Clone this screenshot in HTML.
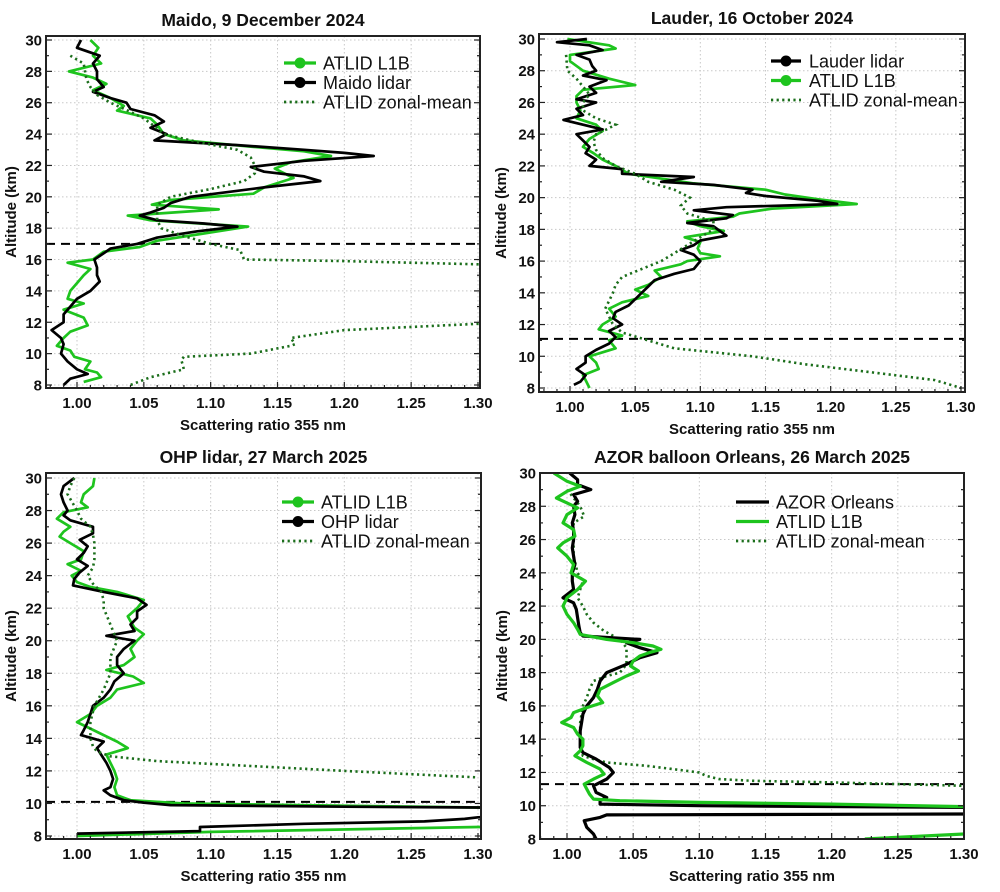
<!DOCTYPE html>
<html><head><meta charset="utf-8">
<style>
html,body{margin:0;padding:0;background:#fff;}
svg{display:block;font-family:"Liberation Sans",Arial,sans-serif;}
.tick{font-size:15px;font-weight:bold;fill:#111;}
.ttl{font-size:17.5px;font-weight:bold;fill:#111;}
.axl{font-size:15px;font-weight:bold;fill:#111;}
.leg{font-size:18px;fill:#111;}
</style></head>
<body>
<svg id="fig" width="1000" height="892" viewBox="0 0 1000 892" xmlns="http://www.w3.org/2000/svg"></svg>
<script>
// ---------- data (altitude km, scattering ratio) ----------
const xTicks = [1.00,1.05,1.10,1.15,1.20,1.25,1.30];
const yTicks = [8,10,12,14,16,18,20,22,24,26,28,30];
const panelTitles = ["Maido, 9 December 2024","Lauder, 16 October 2024","OHP lidar, 27 March 2025","AZOR balloon Orleans, 26 March 2025"];
const tropopause = [17.0, 11.1, 10.1, 11.3];

const maidoAtlid = [[30,1.010],[29.5,1.016],[29,1.012],[28.5,1.018],[28,0.994],[27.6,1.012],[27.2,1.022],[26.8,1.012],[26.3,1.025],[25.8,1.035],[25.5,1.030],[25,1.055],[24.6,1.060],[24,1.065],[23.6,1.080],[23.2,1.130],[22.9,1.170],[22.6,1.190],[22.2,1.160],[21.8,1.148],[21.2,1.162],[20.6,1.140],[20.2,1.132],[19.8,1.070],[19.5,1.056],[19.2,1.106],[18.8,1.038],[18.5,1.055],[18.1,1.128],[17.6,1.090],[17.2,1.060],[16.8,1.047],[16.5,1.020],[16,1.012],[15.8,0.993],[15.4,1.010],[15,1.005],[14.5,1.000],[14,0.995],[13.5,0.993],[13.2,1.005],[12.8,0.990],[12.3,1.005],[11.8,1.008],[11.4,0.995],[11,0.990],[10.5,0.985],[10.2,0.995],[9.8,0.998],[9.5,1.010],[9,1.006],[8.8,1.015],[8.5,1.018],[8.2,1.005]];
const maidoLidar = [[30,1.003],[29.5,1.000],[29,1.017],[28.5,1.012],[28,1.015],[27.5,1.015],[27,1.020],[26.7,1.012],[26.3,1.025],[26,1.037],[25.6,1.040],[25.2,1.058],[24.8,1.065],[24.4,1.055],[24,1.067],[23.6,1.058],[23.3,1.120],[23,1.170],[22.8,1.200],[22.6,1.222],[22.3,1.170],[21.9,1.130],[21.6,1.140],[21.3,1.170],[21,1.182],[20.6,1.140],[20,1.085],[19.6,1.070],[19.3,1.065],[19,1.055],[18.8,1.047],[18.5,1.060],[18.3,1.095],[18.1,1.120],[17.8,1.090],[17.4,1.060],[17,1.045],[16.7,1.025],[16.4,1.020],[16,1.013],[15.5,1.015],[15,1.015],[14.6,1.017],[14,1.010],[13.5,1.000],[13,0.995],[12.5,0.990],[12,0.990],[11.5,0.981],[11,0.988],[10.6,0.990],[10,0.988],[9.5,0.993],[9,1.000],[8.7,1.008],[8.4,0.995],[8,0.990]];
const maidoZonal = [[29,0.995],[28.5,1.005],[27.5,1.007],[27,1.010],[26.5,1.015],[26,1.025],[25.5,1.038],[25,1.050],[24.5,1.058],[24,1.065],[23.5,1.090],[23,1.120],[22.5,1.130],[22,1.133],[21.5,1.133],[21,1.125],[20.5,1.100],[20,1.070],[19.5,1.060],[19,1.060],[18.5,1.060],[18,1.063],[17.5,1.080],[17,1.100],[16.6,1.122],[16,1.125],[15.9,1.200],[15.7,1.300],[15.6,1.40],[12,1.40],[11.9,1.300],[11.5,1.200],[11,1.160],[10.6,1.163],[10.5,1.160],[10,1.130],[9.8,1.080],[9.6,1.078],[9,1.080],[8.5,1.055],[8,1.040]];

const lauderLidar = [[30,1.013],[29.8,0.990],[29.6,1.015],[29.3,1.025],[29,1.005],[28.7,1.015],[28.3,1.017],[28,1.020],[27.7,1.010],[27.4,1.028],[27,1.015],[26.6,1.020],[26.2,1.005],[26,1.020],[25.6,1.005],[25.2,1.010],[24.9,0.995],[24.6,1.010],[24.3,1.025],[24,1.005],[23.6,1.010],[23.2,1.015],[22.8,1.012],[22.4,1.020],[22,1.015],[21.8,1.040],[21.5,1.040],[21.3,1.095],[21,1.070],[20.8,1.110],[20.5,1.140],[20.3,1.135],[20.1,1.150],[19.8,1.190],[19.6,1.205],[19.4,1.120],[19.2,1.095],[18.9,1.125],[18.7,1.120],[18.4,1.090],[18.2,1.110],[17.9,1.115],[17.6,1.120],[17.3,1.100],[17,1.095],[16.7,1.085],[16.4,1.095],[16,1.100],[15.5,1.095],[15.2,1.080],[14.8,1.065],[14.4,1.060],[14,1.055],[13.6,1.050],[13.2,1.045],[12.8,1.035],[12.4,1.033],[12,1.040],[11.6,1.030],[11.2,1.035],[10.8,1.030],[10.4,1.020],[10,1.012],[9.6,1.012],[9.2,1.005],[8.8,1.012],[8.4,1.008],[8.2,1.003]];
const lauderAtlid = [[30,0.998],[29.6,1.030],[29.4,1.035],[29,1.000],[28.6,1.000],[28,1.010],[27.5,1.030],[27.1,1.050],[26.8,1.010],[26.4,1.005],[26,1.005],[25.5,1.008],[25,1.005],[24.6,1.020],[24.2,1.025],[23.7,1.015],[23.2,1.010],[22.8,1.018],[22.4,1.025],[22,1.035],[21.5,1.045],[21.2,1.070],[20.9,1.095],[20.5,1.150],[20.2,1.165],[19.9,1.190],[19.6,1.220],[19.3,1.155],[19,1.130],[18.8,1.125],[18.5,1.090],[18.2,1.100],[17.9,1.118],[17.5,1.088],[17.2,1.100],[16.8,1.098],[16.5,1.100],[16.3,1.115],[16,1.090],[15.8,1.085],[15.4,1.065],[15,1.070],[14.5,1.060],[14.2,1.050],[13.8,1.060],[13.4,1.040],[13,1.030],[12.5,1.035],[12,1.025],[11.7,1.022],[11.3,1.040],[11,1.030],[10.5,1.035],[10,1.015],[9.6,1.020],[9.2,1.022],[8.8,1.010],[8.5,1.012],[8,1.015]];
const lauderZonal = [[29,0.997],[28,0.998],[27.5,1.005],[27,1.010],[26.5,1.015],[26,1.010],[25.5,1.010],[25,1.020],[24.6,1.035],[24.3,1.028],[24,1.020],[23.5,1.018],[23,1.020],[22.5,1.025],[22,1.035],[21.5,1.050],[21,1.060],[20.5,1.080],[20,1.092],[19.5,1.085],[19,1.090],[18.5,1.110],[18,1.110],[17.5,1.100],[17,1.090],[16.5,1.080],[16,1.070],[15.5,1.055],[15,1.040],[14.5,1.035],[14,1.033],[13.5,1.030],[13,1.027],[12.5,1.030],[12,1.033],[11.5,1.040],[11,1.060],[10.5,1.080],[10,1.140],[9.5,1.180],[9,1.230],[8.5,1.280],[8,1.300]];

const ohpAtlid = [[30,1.013],[29.5,1.012],[29,1.005],[28.5,1.003],[28.2,1.008],[27.9,0.990],[27.5,0.985],[27,0.995],[26.7,0.990],[26.4,0.987],[26,0.995],[25.5,1.005],[25,1.003],[24.7,0.993],[24.3,1.003],[24,0.996],[23.6,1.000],[23.3,1.010],[23,1.030],[22.5,1.050],[22,1.045],[21.5,1.038],[21.2,1.040],[20.8,1.043],[20.4,1.050],[20,1.045],[19.5,1.040],[19,1.043],[18.5,1.035],[18.2,1.022],[17.8,1.042],[17.4,1.050],[17,1.030],[16.5,1.025],[16,1.015],[15.5,1.010],[15,1.000],[14.6,1.010],[14.2,1.020],[13.8,1.030],[13.4,1.038],[13,1.022],[12.5,1.025],[12,1.028],[11.5,1.030],[11,1.028],[10.5,1.030],[10.2,1.040],[10,1.080],[9.75,1.300],[9.7,1.40],[8.6,1.40],[8.55,1.300],[8.25,1.100],[8,1.000]];
const ohpLidar = [[30,0.998],[29.5,0.990],[29,0.988],[28.5,0.990],[28,0.993],[27.7,0.990],[27.4,0.995],[27,1.012],[26.6,1.012],[26.2,1.002],[25.8,1.008],[25.4,1.005],[25,1.000],[24.6,1.008],[24.2,1.002],[23.8,0.998],[23.4,0.997],[23,1.020],[22.6,1.045],[22.2,1.052],[21.8,1.045],[21.4,1.045],[21,1.040],[20.6,1.043],[20.3,1.022],[20,1.043],[19.5,1.035],[19,1.030],[18.5,1.030],[18,1.035],[17.5,1.028],[17,1.025],[16.5,1.020],[16,1.012],[15.5,1.010],[15,1.008],[14.5,1.005],[14.2,1.003],[13.8,1.020],[13.4,1.015],[13,1.018],[12.5,1.022],[12,1.025],[11.5,1.027],[11,1.025],[10.8,1.020],[10.5,1.025],[10.2,1.035],[10.05,1.050],[9.9,1.070],[9.8,1.200],[9.75,1.300],[9.7,1.40],[9.2,1.40],[9.15,1.300],[9.05,1.290],[8.9,1.260],[8.75,1.170],[8.55,1.092],[8.3,1.092],[8.15,1.000]];
const ohpZonal = [[30,0.998],[29.5,0.995],[29,0.993],[28,1.000],[27.5,1.003],[27,1.010],[26.5,1.012],[26,1.013],[25.5,1.013],[25,1.013],[24.5,1.012],[24,1.008],[23.5,1.012],[23,1.018],[22.5,1.020],[22,1.020],[21,1.025],[20,1.030],[19,1.025],[18.5,1.025],[18,1.025],[17,1.020],[16,1.013],[15,1.010],[14,1.010],[13.5,1.012],[13.2,1.015],[12.9,1.025],[12.6,1.060],[12.3,1.130],[12,1.200],[11.8,1.250],[11.6,1.300]];

const azorLidar = [[30,1.002],[29.6,1.008],[29.3,1.008],[29,1.018],[28.7,1.005],[28.3,1.008],[28,1.005],[27.5,1.006],[27,1.004],[26.5,1.005],[26,1.005],[25.5,1.004],[25,1.005],[24.5,1.006],[24,1.004],[23.5,1.004],[23,1.005],[22.5,0.997],[22.2,1.005],[21.8,1.007],[21.3,1.008],[20.8,1.009],[20.4,1.010],[20.2,1.012],[20,1.055],[19.8,1.045],[19.5,1.055],[19.2,1.068],[18.9,1.055],[18.5,1.045],[18,1.030],[17.5,1.025],[17,1.023],[16.5,1.020],[16,1.015],[15.5,1.012],[15,1.011],[14.5,1.010],[14,1.010],[13.5,1.010],[13.2,1.012],[12.8,1.022],[12.3,1.032],[12,1.035],[11.6,1.030],[11.2,1.020],[10.8,1.022],[10.5,1.030],[10.3,1.025],[10.1,1.025],[10.0,1.100],[9.9,1.300],[9.8,1.40],[9.6,1.40],[9.5,1.300],[9.45,1.030],[9.3,1.025],[9.1,1.013],[8.7,1.015],[8.3,1.020],[8,1.022]];
const azorAtlid = [[30,0.990],[29.5,1.000],[29.2,1.010],[28.9,1.000],[28.5,0.992],[28.2,1.000],[27.9,1.008],[27.5,1.000],[27,0.997],[26.6,1.005],[26.2,1.006],[25.8,0.997],[25.5,0.993],[25,1.000],[24.5,1.005],[24,1.003],[23.5,1.014],[23,1.008],[22.5,1.000],[22,0.997],[21.5,1.000],[21,1.005],[20.6,1.008],[20.3,1.010],[20,1.030],[19.8,1.050],[19.6,1.065],[19.4,1.071],[19.2,1.062],[19,1.055],[18.7,1.050],[18.4,1.048],[18.1,1.054],[17.8,1.045],[17.4,1.035],[17,1.025],[16.6,1.023],[16.2,1.027],[15.9,1.015],[15.6,1.005],[15.3,1.003],[15,0.996],[14.7,1.005],[14.3,1.008],[14,1.012],[13.6,1.012],[13.3,1.010],[13,1.006],[12.6,1.015],[12.2,1.025],[11.9,1.028],[11.6,1.020],[11.3,1.013],[11,1.015],[10.7,1.017],[10.4,1.020],[10.3,1.040],[10.2,1.100],[10.1,1.200],[9.95,1.300],[9.9,1.40],[8.4,1.40],[8.3,1.300],[8,1.225]];
const azorZonal = [[29,1.000],[28,1.010],[27.4,1.013],[27,1.005],[26,1.005],[25,1.005],[24,1.008],[23.5,1.012],[23,1.010],[22.5,1.008],[22,1.012],[21.5,1.015],[21,1.020],[20.5,1.028],[20,1.040],[19.5,1.045],[19,1.045],[18.5,1.045],[18,1.040],[17.8,1.030],[17.5,1.020],[17,1.017],[16.5,1.015],[16,1.012],[15,1.010],[14,1.010],[13.5,1.010],[13,1.012],[12.8,1.020],[12.6,1.030],[12.4,1.060],[12.2,1.080],[12,1.100],[11.8,1.105],[11.6,1.115],[11.5,1.140],[11.4,1.200],[11.3,1.250],[11.2,1.300]];

// ---------- rendering ----------
const NS = "http://www.w3.org/2000/svg";
const svg = document.getElementById('fig');
const GREEN = "#1ec41e", DKG = "#1b6e1b";
function mk(tag, attrs, parent){
  const e = document.createElementNS(NS, tag);
  for (const k in attrs) e.setAttribute(k, attrs[k]);
  (parent||svg).appendChild(e);
  return e;
}
const panels = [
  {L:46,R:480,T:36,B:388,x100:77,x130:478,y30:40,y8:385, series:[[maidoAtlid,"atlid"],[maidoLidar,"lidar"],[maidoZonal,"zonal"]],
   leg:{x1:284,x2:316,y:63,tx:323,items:[["ATLID L1B","atlid"],["Maido lidar","lidar"],["ATLID zonal-mean","zonal"]],markers:true}},
  {L:539,R:965,T:34,B:392,x100:570,x130:961,y30:39,y8:388, series:[[lauderAtlid,"atlid"],[lauderLidar,"lidar"],[lauderZonal,"zonal"]],
   leg:{x1:771,x2:801,y:61,tx:809,items:[["Lauder lidar","lidar"],["ATLID L1B","atlid"],["ATLID zonal-mean","zonal"]],markers:true}},
  {L:46,R:481,T:473,B:839,x100:77,x130:478,y30:478,y8:836, series:[[ohpAtlid,"atlid"],[ohpLidar,"lidar"],[ohpZonal,"zonal"]],
   leg:{x1:282,x2:314,y:502,tx:321,items:[["ATLID L1B","atlid"],["OHP lidar","lidar"],["ATLID zonal-mean","zonal"]],markers:true}},
  {L:540,R:964,T:473,B:839,x100:567,x130:964,y30:473,y8:839, series:[[azorZonal,"zonal"],[azorLidar,"lidar"],[azorAtlid,"atlid"]],
   leg:{x1:736,x2:769,y:502,tx:776,items:[["AZOR Orleans","lidar"],["ATLID L1B","atlid"],["ATLID zonal-mean","zonal"]],markers:false}}
];
function styleFor(kind, thick){
  if (kind==="atlid") return {stroke:GREEN,"stroke-width":thick?3.2:2.7,fill:"none","stroke-linejoin":"round"};
  if (kind==="lidar") return {stroke:"#000","stroke-width":thick?3.2:2.7,fill:"none","stroke-linejoin":"round"};
  return {stroke:DKG,"stroke-width":2.6,fill:"none","stroke-dasharray":"2.2,3.4"};
}
panels.forEach((p,i)=>{
  const g = mk('g',{});
  
  
  const sx = v => p.x100 + (v-1.0)/0.3*(p.x130-p.x100);
  const sy = a => p.y30 + (30-a)/22*(p.y8-p.y30);
  xTicks.forEach(t=>{ const l=mk('line',{x1:sx(t),x2:sx(t),y1:p.T,y2:p.B,stroke:"#c8c8c8","stroke-width":1,"stroke-dasharray":"1.5,2.5"},g);
      });
  yTicks.forEach(t=>{ const l=mk('line',{x1:p.L,x2:p.R,y1:sy(t),y2:sy(t),stroke:"#c8c8c8","stroke-width":1,"stroke-dasharray":"1.5,2.5"},g);
      });
  const cid='clip'+i;
  const cp = mk('clipPath',{id:cid},g); mk('rect',{x:p.L,y:p.T,width:p.R-p.L,height:p.B-p.T},cp);
  const dg = mk('g',{'clip-path':'url(#'+cid+')'},g);
  const tp = mk('line',{x1:p.L,x2:p.R,y1:sy(tropopause[i]),y2:sy(tropopause[i]),stroke:"#000","stroke-width":2,"stroke-dasharray":"9,6"},dg);
   
  p.series.forEach(([data,kind])=>{
    const d = data.map((pt,j)=>(j?'L':'M')+sx(pt[1]).toFixed(1)+','+sy(pt[0]).toFixed(1)).join(' ');
    const path = mk('path',Object.assign({d:d},styleFor(kind,i===3)),dg);
    
    
  });
  const fr = mk('rect',{x:p.L,y:p.T,width:p.R-p.L,height:p.B-p.T,fill:"none",stroke:"#222","stroke-width":2},g);
   
  for (let v=0.98; v<=1.3001; v+=0.01){
    const x=sx(v); const major=Math.abs(Math.round(v*100)%5)===0;
    mk('line',{x1:x,x2:x,y1:p.B,y2:p.B-(major?6:3),stroke:"#222","stroke-width":1.2},g);
  }
  for (let a=8; a<=30; a+=1){
    const y=sy(a); const major=a%2===0;
    mk('line',{x1:p.L,x2:p.L+(major?6:3),y1:y,y2:y,stroke:"#222","stroke-width":1.2},g);
    mk('line',{x1:p.R,x2:p.R-(major?6:3),y1:y,y2:y,stroke:"#222","stroke-width":1.2},g);
  }
  xTicks.forEach(t=>{ const tx=mk('text',{x:sx(t),y:p.B+20,'text-anchor':'middle',class:'tick'},g); tx.textContent=t.toFixed(2);
      });
  yTicks.forEach(t=>{ const tx=mk('text',{x:p.L-4,y:sy(t)+5.5,'text-anchor':'end',class:'tick'},g); tx.textContent=t;
      });
  const tt=mk('text',{x:(p.L+p.R)/2,y:p.T-10,'text-anchor':'middle',class:'ttl'},g); tt.textContent=panelTitles[i];
   
  const xl=mk('text',{x:(p.L+p.R)/2,y:p.B+42,'text-anchor':'middle',class:'axl'},g); xl.textContent="Scattering ratio 355 nm";
   
  const yc=(p.T+p.B)/2, yx=(i%2===0)?16:p.L-33;
  const yl=mk('text',{x:yx,y:yc,'text-anchor':'middle',class:'axl',transform:'rotate(-90 '+yx+' '+yc+')'},g); yl.textContent="Altitude (km)";
   
  const lg = mk('g',{},g);
   
  p.leg.items.forEach(([label,kind],k)=>{
    const y=p.leg.y+k*19.5;
    const e = mk('g',{},lg);
     
    const st = styleFor(kind, true);
    if (kind==="zonal") st['stroke-width']=2.8;
    mk('line',Object.assign({x1:p.leg.x1,x2:p.leg.x2,y1:y,y2:y},st),e);
    if (p.leg.markers && kind!=="zonal") mk('circle',{cx:(p.leg.x1+p.leg.x2)/2,cy:y,r:5.5,fill:kind==="atlid"?GREEN:"#000"},e);
    const t=mk('text',{x:p.leg.tx,y:y+6.5,class:'leg'},e); t.textContent=label;
  });
});
</script>
</body></html>
